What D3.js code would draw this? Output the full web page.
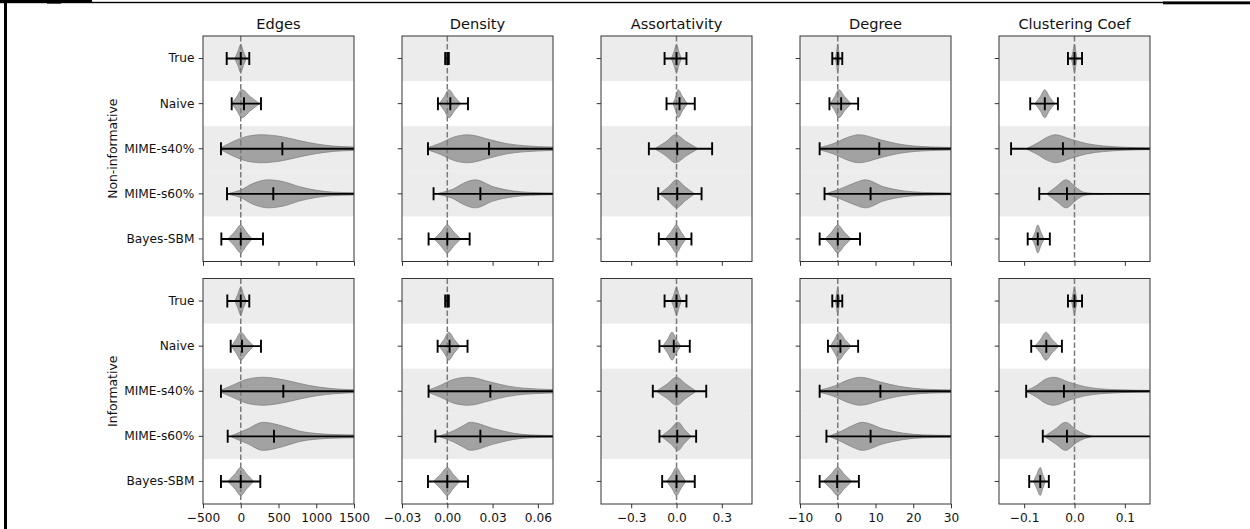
<!DOCTYPE html>
<html>
<head>
<meta charset="utf-8">
<script src="https://cdn.jsdelivr.net/npm/d3@7"></script>
<style>
  html, body { margin: 0; padding: 0; background: #fff; }
  svg { display: block; font-family: "DejaVu Sans", sans-serif; }
</style>
</head>
<body>
<script>
// ---- categories and axes ----
const metrics = ["Edges", "Density", "Assortativity", "Degree", "Clustering Coef"];
const methods = ["True", "Naive", "MIME-s40%", "MIME-s60%", "Bayes-SBM"];
const shadedMethods = ["True", "MIME-s40%", "MIME-s60%"];
const groups = ["Non-informative", "Informative"];

const xDomains = [[-500, 1500], [-0.03, 0.07], [-0.5, 0.5], [-10, 30], [-0.15, 0.15]];
const xTickValues = [[-500, 0, 500, 1000, 1500], [-0.03, 0, 0.03, 0.06], [-0.3, 0, 0.3], [-10, 0, 10, 20, 30], [-0.1, 0, 0.1]];
const xTickLabels = [
  ["\u2212500", "0", "500", "1000", "1500"],
  ["\u22120.03", "0.00", "0.03", "0.06"],
  ["\u22120.3", "0.0", "0.3"],
  ["\u221210", "0", "10", "20", "30"],
  ["\u22120.1", "0.0", "0.1"]
];

// ---- error bars: [low, mean, high] per method ----
const edgesBarsNonInf = [[-186, 0, 113], [-120, 43, 268], [-262, 551, 2000], [-182, 431, 2000], [-257, 0, 295]];
const edgesBarsInf    = [[-178, 0, 113], [-133, 17, 268], [-262, 564, 2000], [-173, 440, 2000], [-262, 0, 259]];
const densityBarsNonInf = [[-0.0014, 0, 0.001], [-0.0062, 0.002, 0.0137], [-0.0128, 0.0276, 0.1], [-0.0091, 0.0219, 0.1], [-0.0124, 0, 0.0148]];
const densityBarsInf    = [[-0.0014, 0, 0.001], [-0.0064, 0.0015, 0.0134], [-0.0124, 0.0285, 0.1], [-0.0079, 0.0219, 0.1], [-0.0128, 0, 0.0137]];
const assortBarsNonInf = [[-0.079, 0, 0.066], [-0.066, 0.02, 0.121], [-0.183, 0.005, 0.236], [-0.121, 0.005, 0.166], [-0.117, 0, 0.099]];
const assortBarsInf    = [[-0.079, 0, 0.066], [-0.113, -0.018, 0.088], [-0.157, 0, 0.197], [-0.113, 0.005, 0.13], [-0.095, 0, 0.121]];
const degreeBarsNonInf = [[-1.45, 0, 1.2], [-2.2, 0.9, 5.4], [-4.8, 11.0, 40], [-3.5, 8.7, 40], [-4.8, 0, 5.9]];
const degreeBarsInf    = [[-1.45, 0, 1.2], [-2.6, 0.7, 5.4], [-4.8, 11.3, 40], [-3.0, 8.7, 40], [-4.8, -0.15, 5.6]];
const clusterBarsNonInf = [[-0.013, 0, 0.015], [-0.088, -0.059, -0.033], [-0.126, -0.023, 0.3], [-0.07, -0.015, 0.3], [-0.093, -0.073, -0.049]];
const clusterBarsInf    = [[-0.013, 0, 0.015], [-0.086, -0.056, -0.025], [-0.096, -0.021, 0.3], [-0.063, -0.015, 0.3], [-0.09, -0.068, -0.051]];

// ---- violin outlines: [value, relative half-width] knots per method ----
const edgesViolinNonInf = [
  [[-75, .03], [-38, .5], [0, 1], [35, .5], [70, .03]],
  [[-116, .03], [-52, .5], [13, 1], [128, .5], [242, .03]],
  [[-262, .08], [-99, .52], [79, .88], [277, 1], [564, .84], [785, .57], [1006, .34], [1226, .19], [1500, .12], [1800, .06]],
  [[-142, .05], [-10, .25], [166, .75], [365, 1], [564, .87], [785, .5], [1006, .25], [1226, .12], [1500, .08], [1800, .04]],
  [[-165, .03], [-82, .5], [0, 1], [72, .5], [145, .03]]
];
const edgesViolinInf = [
  [[-75, .03], [-38, .5], [0, 1], [35, .5], [70, .03]],
  [[-120, .03], [-60, .5], [0, 1], [83, .5], [166, .03]],
  [[-262, .08], [-99, .45], [79, .85], [298, 1], [564, .82], [785, .55], [1006, .32], [1226, .18], [1500, .1], [1800, .05]],
  [[-120, .05], [79, .5], [298, 1], [564, .72], [785, .36], [1006, .2], [1226, .13], [1500, .1], [1800, .05]],
  [[-165, .03], [-82, .5], [0, 1], [83, .5], [166, .03]]
];
const densityViolinNonInf = [
  [],
  [[-0.0051, .03], [-0.002, .5], [0.001, 1], [0.0048, .5], [0.0086, .03]],
  [[-0.0128, .08], [-0.0046, .4], [0.0042, .83], [0.0134, 1], [0.0285, .64], [0.0395, .36], [0.0505, .22], [0.07, .12], [0.09, .05]],
  [[-0.0058, .04], [0.0042, .36], [0.0108, .76], [0.0185, 1], [0.0307, .5], [0.0439, .2], [0.055, .1], [0.07, .06], [0.09, .03]],
  [[-0.0084, .03], [-0.0042, .5], [0, 1], [0.0043, .5], [0.0086, .03]]
];
const densityViolinInf = [
  [],
  [[-0.0051, .03], [-0.002, .5], [0.001, 1], [0.0045, .5], [0.0081, .03]],
  [[-0.0124, .08], [-0.0046, .42], [0.0042, .85], [0.0141, 1], [0.0285, .66], [0.0395, .38], [0.0505, .22], [0.07, .12], [0.09, .05]],
  [[-0.0046, .04], [0.0042, .4], [0.0108, .78], [0.0152, 1], [0.0307, .55], [0.0439, .22], [0.055, .1], [0.07, .06], [0.09, .03]],
  [[-0.009, .03], [-0.0045, .5], [0, 1], [0.004, .5], [0.008, .03]]
];
const assortViolinNonInf = [
  [[-0.033, .03], [-0.016, .5], [0, 1], [0.015, .5], [0.031, .03]],
  [[-0.022, .03], [-0.005, .5], [0.011, 1], [0.04, .5], [0.07, .03]],
  [[-0.139, .04], [-0.07, .5], [-0.007, 1], [0.065, .5], [0.137, .04]],
  [[-0.106, .04], [-0.053, .5], [0, 1], [0.057, .5], [0.115, .04]],
  [[-0.073, .03], [-0.036, .5], [0, 1], [0.03, .5], [0.06, .03]]
];
const assortViolinInf = [
  [[-0.033, .03], [-0.016, .5], [0, 1], [0.015, .5], [0.031, .03]],
  [[-0.088, .03], [-0.058, .5], [-0.029, 1], [-0.002, .5], [0.026, .03]],
  [[-0.128, .04], [-0.064, .5], [0, 1], [0.063, .5], [0.126, .04]],
  [[-0.095, .04], [-0.042, .5], [0.011, 1], [0.052, .5], [0.093, .04]],
  [[-0.062, .03], [-0.031, .5], [0, 1], [0.03, .5], [0.06, .03]]
];
const degreeViolinNonInf = [
  [[-0.6, .03], [-0.3, .5], [0, 1], [0.28, .5], [0.55, .03]],
  [[-1.9, .03], [-0.8, .5], [0.3, 1], [1.85, .5], [3.4, .03]],
  [[-4.8, .08], [-1.0, .38], [2.5, .8], [5.6, 1], [11.3, .64], [15.7, .36], [20.1, .2], [24.5, .13], [30, .09], [36, .04]],
  [[-2.8, .04], [0.7, .36], [4.3, .76], [7.3, 1], [12.2, .5], [17.5, .21], [22.7, .1], [30, .06], [36, .03]],
  [[-3.2, .03], [-1.6, .5], [0, 1], [1.7, .5], [3.4, .03]]
];
const degreeViolinInf = [
  [[-0.6, .03], [-0.3, .5], [0, 1], [0.28, .5], [0.55, .03]],
  [[-1.9, .03], [-0.8, .5], [0.3, 1], [1.85, .5], [3.4, .03]],
  [[-4.8, .08], [-1.0, .36], [2.5, .78], [6.0, 1], [11.3, .66], [15.7, .38], [20.1, .21], [24.5, .13], [30, .09], [36, .04]],
  [[-1.9, .04], [1.0, .38], [4.0, .78], [6.5, 1], [12.2, .52], [17.5, .22], [22.7, .1], [30, .06], [36, .03]],
  [[-3.7, .03], [-1.85, .5], [0, 1], [1.8, .5], [3.6, .03]]
];
const clusterViolinNonInf = [
  [[-0.006, .03], [-0.003, .5], [0, 1], [0.0025, .5], [0.005, .03]],
  [[-0.078, .03], [-0.068, .5], [-0.059, 1], [-0.05, .5], [-0.04, .03]],
  [[-0.094, .04], [-0.074, .4], [-0.054, .83], [-0.038, 1], [-0.008, .69], [0.025, .36], [0.058, .2], [0.098, .11], [0.15, .06], [0.2, .03]],
  [[-0.054, .04], [-0.035, .55], [-0.017, 1], [0.005, .4], [0.018, .12], [0.035, .04], [0.06, .02]],
  [[-0.084, .03], [-0.078, .5], [-0.073, 1], [-0.067, .5], [-0.061, .03]]
];
const clusterViolinInf = [
  [[-0.006, .03], [-0.003, .5], [0, 1], [0.0025, .5], [0.005, .03]],
  [[-0.078, .03], [-0.067, .5], [-0.057, 1], [-0.045, .5], [-0.032, .03]],
  [[-0.094, .05], [-0.074, .45], [-0.058, .85], [-0.041, 1], [-0.012, .66], [0.02, .33], [0.05, .18], [0.09, .1], [0.15, .06], [0.2, .03]],
  [[-0.058, .04], [-0.037, .55], [-0.018, 1], [0.004, .45], [0.02, .15], [0.032, .04]],
  [[-0.081, .03], [-0.075, .5], [-0.068, 1], [-0.063, .5], [-0.058, .03]]
];

const barsByMetric = [
  [edgesBarsNonInf, edgesBarsInf],
  [densityBarsNonInf, densityBarsInf],
  [assortBarsNonInf, assortBarsInf],
  [degreeBarsNonInf, degreeBarsInf],
  [clusterBarsNonInf, clusterBarsInf]
];
const violinsByMetric = [
  [edgesViolinNonInf, edgesViolinInf],
  [densityViolinNonInf, densityViolinInf],
  [assortViolinNonInf, assortViolinInf],
  [degreeViolinNonInf, degreeViolinInf],
  [clusterViolinNonInf, clusterViolinInf]
];

// ---- layout ----
const W = 1250, H = 529;
const panelLeft0 = 203, panelStep = 199, panelW = 151;
const rowTops = [36, 278.5], panelH = 225.5;
const tickLen = 4.3, tickPad = 4.3;
const violinHalf = 0.31;   // fraction of a row band
const capHalf = 6.5;

const svg = d3.select("body").append("svg").attr("width", W).attr("height", H);

// page frame pieces
const frame = svg.append("g").attr("fill", "#000");
frame.append("rect").attr("x", 0).attr("y", 1.8).attr("width", W).attr("height", 1.4);
frame.append("rect").attr("x", 0).attr("y", 0).attr("width", 92).attr("height", 2.8);
frame.append("rect").attr("x", 47).attr("y", 0).attr("width", 14).attr("height", 3.6);
frame.append("rect").attr("x", 1163).attr("y", 1.5).attr("width", W - 1163).attr("height", 2.8);
frame.append("rect").attr("x", 4).attr("y", 0).attr("width", 3).attr("height", H);

const defs = svg.append("defs");

groups.forEach((group, gi) => {
  const top = rowTops[gi];

  metrics.forEach((metric, mi) => {
    const left = panelLeft0 + mi * panelStep;
    const x = d3.scaleLinear().domain(xDomains[mi]).range([left, left + panelW]);
    const y = d3.scaleBand().domain(methods).range([top, top + panelH]).padding(0);
    const bw = y.bandwidth();
    const cy = m => y(m) + bw / 2;

    const clipId = `clip-${gi}-${mi}`;
    defs.append("clipPath").attr("id", clipId)
      .append("rect").attr("x", left).attr("y", top).attr("width", panelW).attr("height", panelH);

    const g = svg.append("g");
    const inner = g.append("g").attr("clip-path", `url(#${clipId})`);

    // shaded row bands
    inner.selectAll("rect.band").data(shadedMethods).join("rect")
      .attr("class", "band")
      .attr("x", left).attr("width", panelW)
      .attr("y", d => y(d)).attr("height", bw)
      .attr("fill", "#ececec");

    // zero reference
    inner.append("line")
      .attr("x1", x(0)).attr("x2", x(0))
      .attr("y1", top).attr("y2", top + panelH)
      .attr("stroke", "#7a7a7a").attr("stroke-width", 1.5)
      .attr("stroke-dasharray", "5.5,2.5");

    // violins
    const violins = violinsByMetric[mi][gi];
    methods.forEach((m, i) => {
      const knots = violins[i];
      if (!knots.length) return;
      const area = d3.area()
        .x(d => x(d[0]))
        .y0(d => cy(m) - d[1] * bw * violinHalf)
        .y1(d => cy(m) + d[1] * bw * violinHalf)
        .curve(d3.curveMonotoneX);
      inner.append("path")
        .attr("d", area(knots))
        .attr("fill", "#7f7f7f").attr("fill-opacity", 0.68)
        .attr("stroke", "#7f7f7f").attr("stroke-opacity", 0.85)
        .attr("stroke-width", 0.9);
    });

    // error bars with caps and mean tick
    const bars = barsByMetric[mi][gi];
    methods.forEach((m, i) => {
      const [lo, mean, hi] = bars[i];
      const yc = cy(m);
      const eb = inner.append("g").attr("stroke", "#000").attr("stroke-width", 1.9);
      eb.append("line").attr("x1", x(lo)).attr("x2", x(hi)).attr("y1", yc).attr("y2", yc);
      [lo, mean, hi].forEach(v => {
        eb.append("line").attr("x1", x(v)).attr("x2", x(v))
          .attr("y1", yc - capHalf).attr("y2", yc + capHalf);
      });
    });

    // spines
    g.append("rect")
      .attr("x", left).attr("y", top).attr("width", panelW).attr("height", panelH)
      .attr("fill", "none").attr("stroke", "#333").attr("stroke-width", 1);

    // y axis
    const yAxis = d3.axisLeft(y).tickSize(tickLen).tickPadding(tickPad)
      .tickFormat(mi === 0 ? (d => d) : () => "");
    const ya = g.append("g").attr("transform", `translate(${left},0)`).call(yAxis);
    ya.select(".domain").remove();
    ya.selectAll("line").attr("stroke", "#333").attr("stroke-width", 1);
    ya.selectAll("text").attr("font-size", 12.2).attr("fill", "#111")
      .attr("font-family", "DejaVu Sans, sans-serif");

    // x axis
    const labels = xTickLabels[mi];
    const xAxis = d3.axisBottom(x).tickValues(xTickValues[mi]).tickSize(tickLen).tickPadding(5)
      .tickFormat((d, i) => gi === 1 ? labels[i] : "");
    const xa = g.append("g").attr("transform", `translate(0,${top + panelH})`).call(xAxis);
    xa.select(".domain").remove();
    xa.selectAll("line").attr("stroke", "#333").attr("stroke-width", 1);
    xa.selectAll("text").attr("font-size", 12.2).attr("fill", "#111")
      .attr("font-family", "DejaVu Sans, sans-serif");

    // column titles
    if (gi === 0) {
      svg.append("text")
        .attr("x", left + panelW / 2).attr("y", top - 7.3)
        .attr("text-anchor", "middle")
        .attr("font-size", 14.6).attr("fill", "#111")
        .text(metric);
    }
  });

  // group label
  svg.append("text")
    .attr("transform", `translate(117,${top + panelH / 2}) rotate(-90)`)
    .attr("text-anchor", "middle")
    .attr("font-size", 12.4).attr("fill", "#111")
    .text(group);
});
</script>
</body>
</html>
